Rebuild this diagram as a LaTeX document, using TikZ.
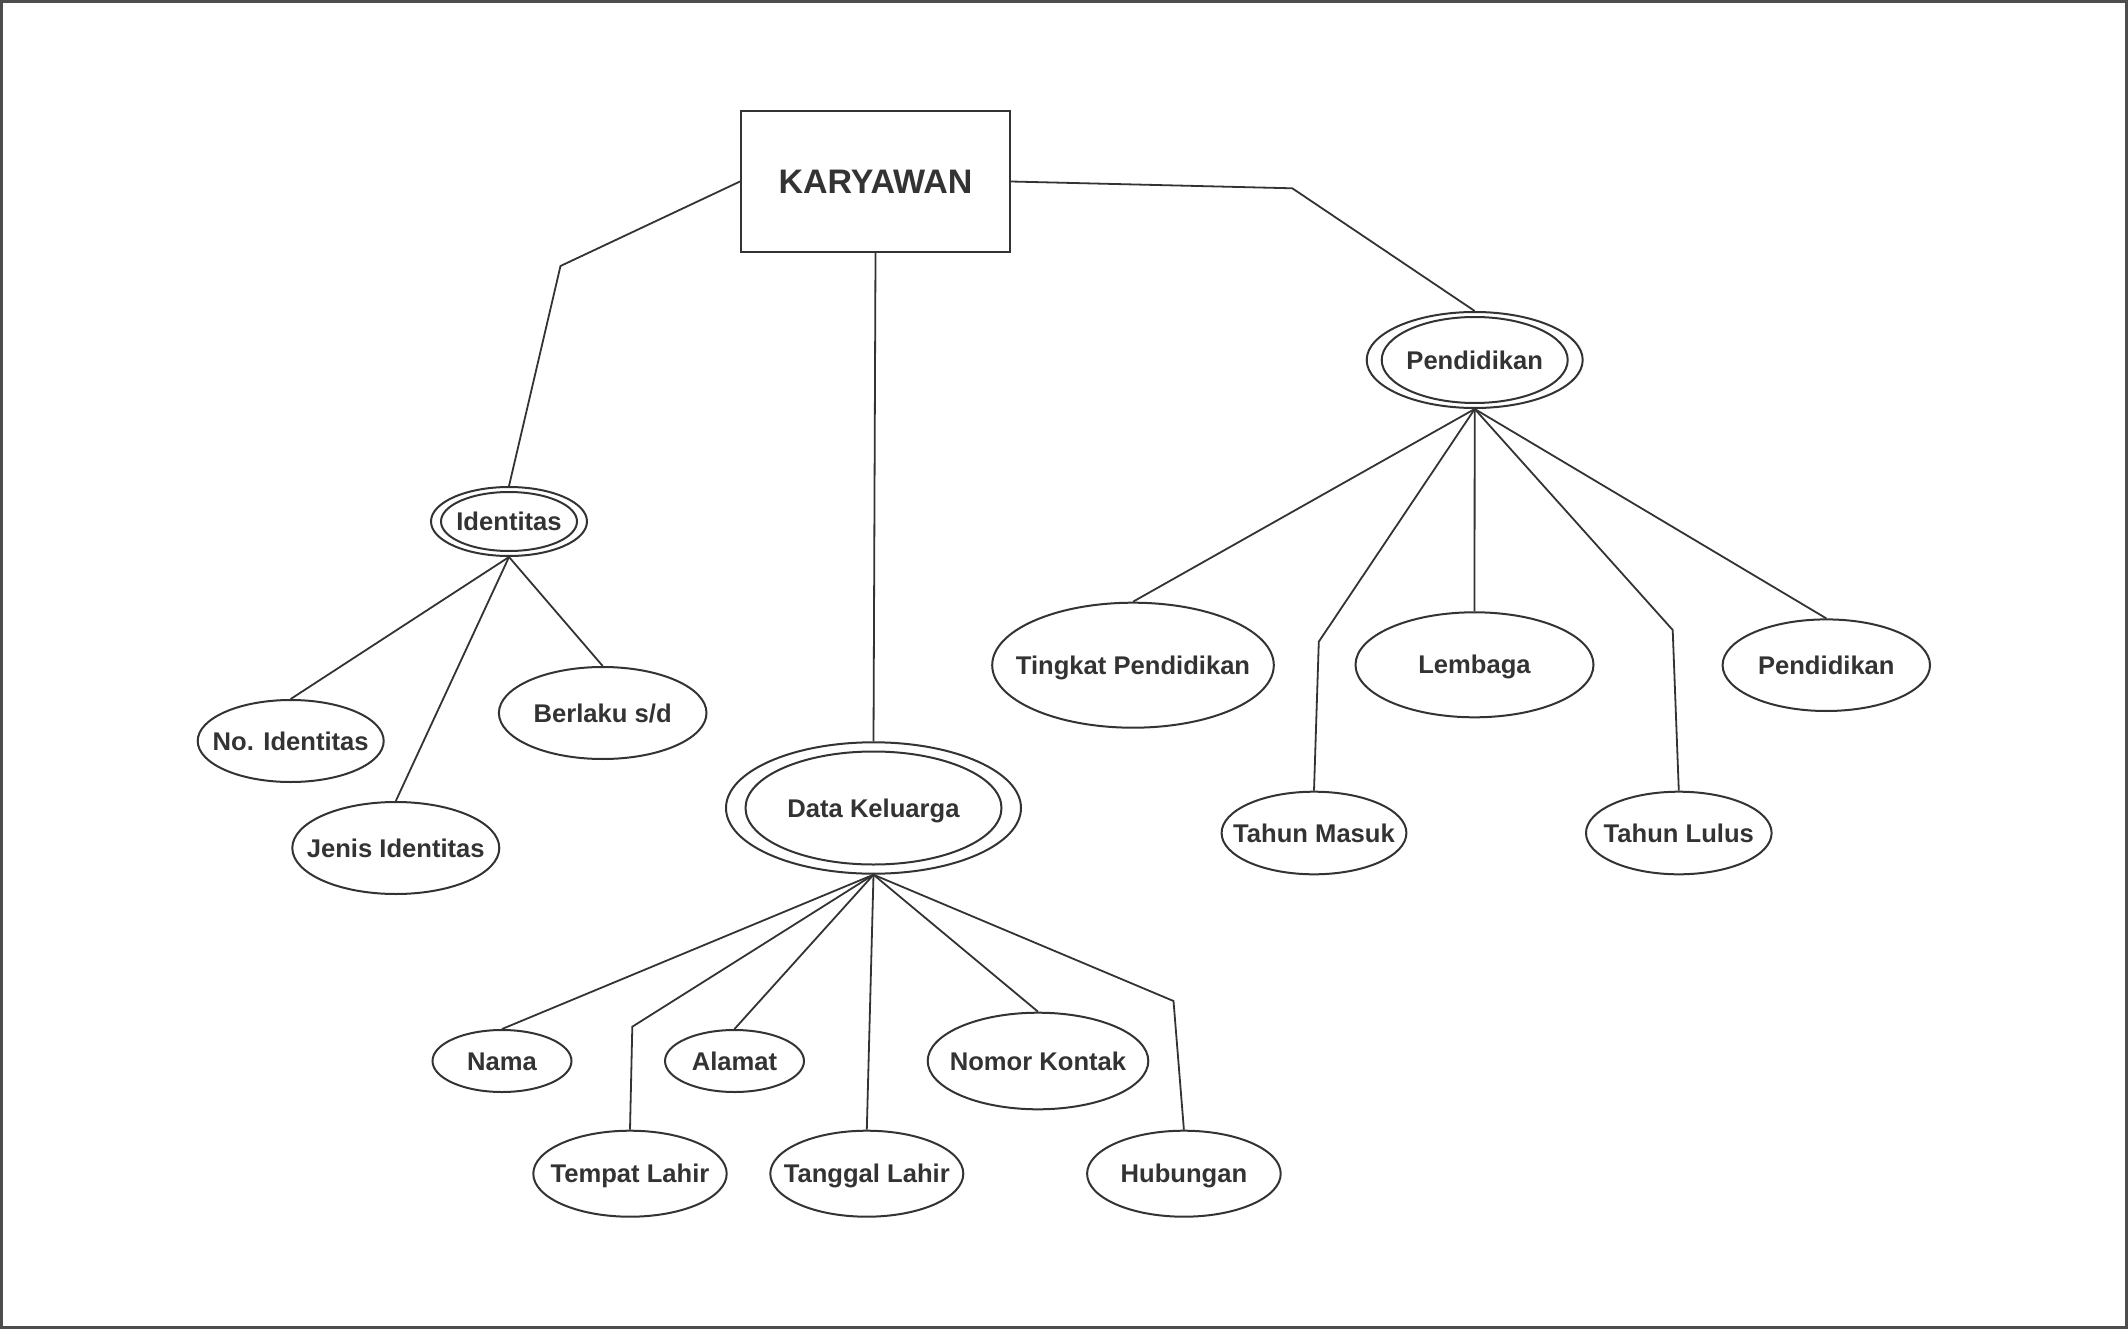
\documentclass[tikz,border=0pt]{standalone}
\usepackage{fontspec}
\setmainfont{Liberation Sans}
\usetikzlibrary{shapes.geometric}
\definecolor{ink}{HTML}{333333}
\definecolor{framegray}{HTML}{4D4D4D}
\begin{document}
\begin{tikzpicture}[x=1pt,y=-1pt,
  lbl/.style={font=\fontsize{25.6}{30}\selectfont\bfseries, text=ink,
              text height=18.3pt, text depth=0pt},
  attr/.style 2 args={ellipse, draw=ink, line width=2pt, inner sep=0pt,
              minimum width=#1pt, minimum height=#2pt, lbl},
  entity/.style 2 args={rectangle, draw=ink, line width=2pt, inner sep=0pt,
              minimum width=#1pt, minimum height=#2pt,
              font=\fontsize{34}{39}\selectfont\bfseries, text=ink,
              text height=24.3pt, text depth=0pt},
  link/.style={draw=ink, line width=1.8pt, line join=miter}]

\useasboundingbox (0,0) rectangle (2128,1329);
\draw[framegray, line width=2.5pt] (1.5,1.5) rectangle (2126.5,1327.5);

% entity
\node[entity={269}{141}] (kary) at (875.5,181.5) {KARYAWAN};

% multivalued attributes (double ellipses)
\node[attr={156}{69}] (ident) at (509,521.5) {};
\node[attr={136}{59}] (identIn) at (ident.center) {\makebox[0pt]{Identitas}};

\node[attr={295}{131.4}] (dk) at (873.5,808) {};
\node[attr={256}{113}] (dkIn) at (dk.center) {\makebox[0pt]{Data Keluarga}};

\node[attr={216}{96}] (pend) at (1474.7,360) {};
\node[attr={186}{86}] (pendIn) at (pend.center) {\makebox[0pt]{Pendidikan}};

% attributes of Identitas
\node[attr={186}{82}] (noid) at (290.7,741) {\makebox[0pt]{No. Identitas}};
\node[attr={207}{92}] (jenis) at (395.8,848) {\makebox[0pt]{Jenis Identitas}};
\node[attr={207.6}{92}] (berlaku) at (602.7,713) {\makebox[0pt]{Berlaku s/d}};

% attributes of Data Keluarga
\node[attr={139}{62}] (nama) at (502,1061) {\makebox[0pt]{Nama}};
\node[attr={139}{62}] (alamat) at (734.5,1061) {\makebox[0pt]{Alamat}};
\node[attr={220.6}{96.6}] (nomor) at (1038,1061) {\makebox[0pt]{Nomor Kontak}};
\node[attr={193.4}{86}] (tempat) at (630,1173.7) {\makebox[0pt]{Tempat Lahir}};
\node[attr={193}{86}] (tanggal) at (866.8,1173.7) {\makebox[0pt]{Tanggal Lahir}};
\node[attr={193.6}{86}] (hubungan) at (1183.9,1173.7) {\makebox[0pt]{Hubungan}};

% attributes of Pendidikan
\node[attr={281.6}{125}] (tingkat) at (1133,665.2) {\makebox[0pt]{Tingkat Pendidikan}};
\node[attr={238}{105}] (lembaga) at (1474.5,664.8) {\makebox[0pt]{Lembaga}};
\node[attr={207.4}{91.6}] (pend2) at (1826.3,665.2) {\makebox[0pt]{Pendidikan}};
\node[attr={184.8}{82.6}] (masuk) at (1314,833) {\makebox[0pt]{Tahun Masuk}};
\node[attr={185.6}{82.6}] (lulus) at (1678.8,833) {\makebox[0pt]{Tahun Lulus}};

% bend points of the connectors
\coordinate (bL) at (560.5,266);
\coordinate (bR) at (1292.3,188.3);
\coordinate (bTempat) at (632.3,1026.7);
\coordinate (bHub) at (1173.5,1001);
\coordinate (bMasuk) at (1318.8,641.7);
\coordinate (bLulus) at (1672.7,630);

% connectors from the entity
\draw[link] (kary.west) -- (bL) -- (ident.north);
\draw[link] (kary.south) -- (dk.north);
\draw[link] (kary.east) -- (bR) -- (pend.north);

% Identitas
\draw[link] (ident.south) -- (noid.north);
\draw[link] (ident.south) -- (jenis.north);
\draw[link] (ident.south) -- (berlaku.north);

% Data Keluarga
\draw[link] (dk.south) -- (nama.north);
\draw[link] (dk.south) -- (bTempat) -- (tempat.north);
\draw[link] (dk.south) -- (alamat.north);
\draw[link] (dk.south) -- (tanggal.north);
\draw[link] (dk.south) -- (nomor.north);
\draw[link] (dk.south) -- (bHub) -- (hubungan.north);

% Pendidikan
\draw[link] (pend.south) -- (tingkat.north);
\draw[link] (pend.south) -- (bMasuk) -- (masuk.north);
\draw[link] (pend.south) -- (lembaga.north);
\draw[link] (pend.south) -- (bLulus) -- (lulus.north);
\draw[link] (pend.south) -- (pend2.north);

\end{tikzpicture}
\end{document}
